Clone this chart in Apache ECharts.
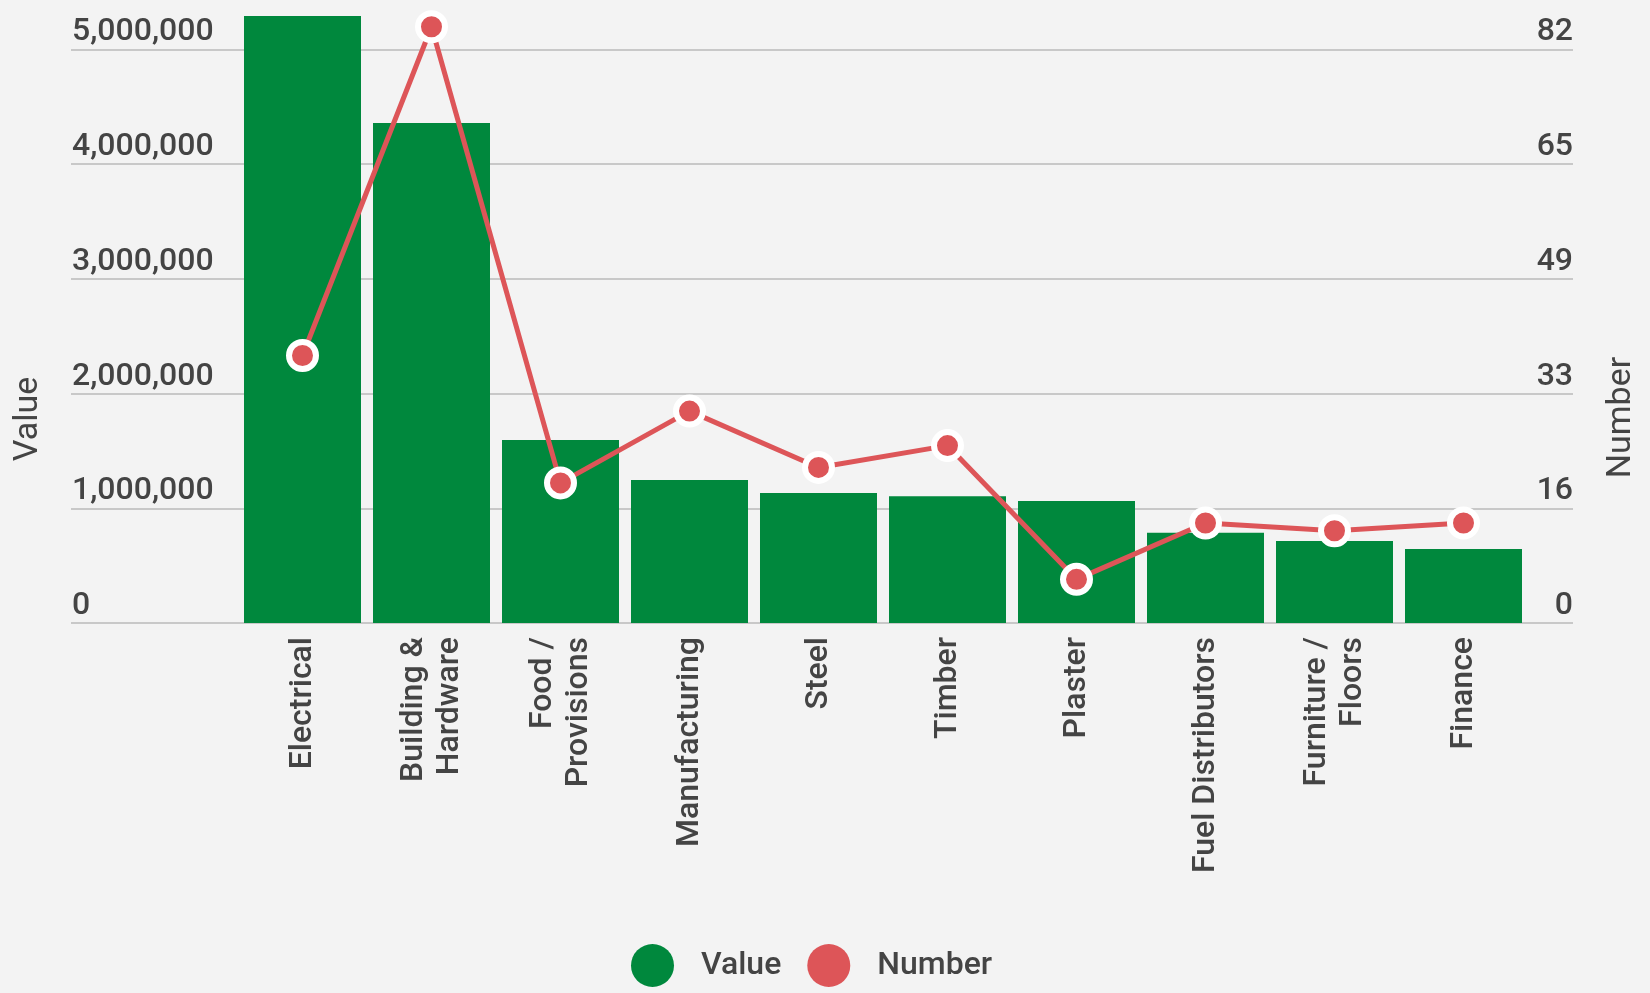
<!DOCTYPE html>
<html>
<head>
<meta charset="utf-8">
<script src="https://cdn.jsdelivr.net/npm/echarts@6/dist/echarts.min.js"></script>
<style>
  html, body { margin: 0; padding: 0; background: #f3f3f3; }
  #chart { width: 1650px; height: 993px; }
</style>
</head>
<body>
<div id="chart"></div>
<script>
// data
const categories = ['Electrical', 'Building &\nHardware', 'Food /\nProvisions', 'Manufacturing', 'Steel',
  'Timber', 'Plaster', 'Fuel Distributors', 'Furniture /\nFloors', 'Finance'];
const valueData = [5290000, 4357000, 1595000, 1246000, 1133000, 1104000, 1063000, 787000, 715000, 645000];
const numberData = [38, 84.7, 19.9, 30.1, 22.1, 25.2, 6.2, 14.2, 13.1, 14.2];
const seriesNames = ['Value', 'Number'];
const valueAxisMax = 5000000, valueAxisStep = 1000000;
const numberAxisMax = 81.5, numberAxisStep = 16.3;

const green = '#00883d';
const red = '#dd5558';
const textColor = '#444444';
const font = 'Roboto';
const weight = 500;

const chart = echarts.init(document.getElementById('chart'));

const gridTop = 49.25, gridBottom = 370;

const option = {
  backgroundColor: '#f3f3f3',
  animation: false,
  textStyle: { fontFamily: font },
  grid: [
    // full-width grid that only carries gridlines and tick labels
    { left: 71, right: 77, top: gridTop, bottom: gridBottom },
    // narrower grid where the categories sit
    { left: 238, right: 122, top: gridTop, bottom: gridBottom }
  ],
  xAxis: [
    { gridIndex: 0, type: 'category', data: [''], show: false },
    {
      gridIndex: 1,
      type: 'category',
      data: categories,
      axisLine: { show: false },
      axisTick: { show: false },
      axisLabel: {
        interval: 0,
        rotate: 90,
        margin: 14,
        fontSize: 32,
        fontWeight: weight,
        lineHeight: 36,
        color: textColor,
        fontFamily: font
      }
    }
  ],
  yAxis: [
    {
      gridIndex: 0,
      type: 'value',
      position: 'left',
      min: 0,
      max: valueAxisMax,
      interval: valueAxisStep,
      axisLine: { show: false },
      axisTick: { show: false },
      splitLine: { show: true, lineStyle: { color: '#c8c8c8', width: 2 } },
      axisLabel: {
        inside: true,
        margin: 1,
        align: 'left',
        verticalAlign: 'bottom',
        padding: [0, 0, 1, 0],
        fontSize: 32,
        fontWeight: weight,
        color: textColor,
        fontFamily: font,
        formatter: v => v.toLocaleString('en-US')
      }
    },
    {
      gridIndex: 0,
      type: 'value',
      position: 'right',
      min: 0,
      max: numberAxisMax,
      interval: numberAxisStep,
      axisLine: { show: false },
      axisTick: { show: false },
      splitLine: { show: false },
      axisLabel: {
        inside: true,
        margin: 0,
        align: 'right',
        verticalAlign: 'bottom',
        padding: [0, 0, 1, 0],
        fontSize: 32,
        fontWeight: weight,
        color: textColor,
        fontFamily: font,
        formatter: v => String(Math.round(v))
      }
    },
    { gridIndex: 1, type: 'value', min: 0, max: valueAxisMax, interval: valueAxisStep, show: false, splitLine: { show: false } },
    { gridIndex: 1, type: 'value', position: 'right', min: 0, max: numberAxisMax, interval: numberAxisStep, show: false, splitLine: { show: false } }
  ],
  legend: {
    data: seriesNames,
    left: 626,
    top: 939,
    icon: 'circle',
    itemWidth: 43,
    itemHeight: 43,
    itemGap: 26,
    itemStyle: { borderWidth: 0 },
    textStyle: { fontSize: 32, fontWeight: weight, color: textColor, fontFamily: font, padding: [0, 0, 0, 22] }
  },
  graphic: [
    {
      type: 'text', x: 28, y: 419, rotation: Math.PI / 2,
      style: { text: 'Value', fontSize: 34, fontFamily: font, fill: textColor, align: 'center', verticalAlign: 'middle' }
    },
    {
      type: 'text', x: 1621, y: 417.5, rotation: Math.PI / 2,
      style: { text: 'Number', fontSize: 34, fontFamily: font, fill: textColor, align: 'center', verticalAlign: 'middle' }
    }
  ],
  series: [
    {
      name: seriesNames[0],
      type: 'bar',
      xAxisIndex: 1,
      yAxisIndex: 2,
      data: valueData,
      barCategoryGap: '9.3%',
      clip: false,
      itemStyle: { color: green },
      z: 2
    },
    {
      name: seriesNames[1],
      type: 'line',
      xAxisIndex: 1,
      yAxisIndex: 3,
      data: numberData,
      clip: false,
      symbol: 'circle',
      symbolSize: 27,
      lineStyle: { color: red, width: 5 },
      itemStyle: { color: red, borderColor: '#ffffff', borderWidth: 6 },
      z: 3
    }
  ]
};

chart.setOption(option);
</script>
</body>
</html>
